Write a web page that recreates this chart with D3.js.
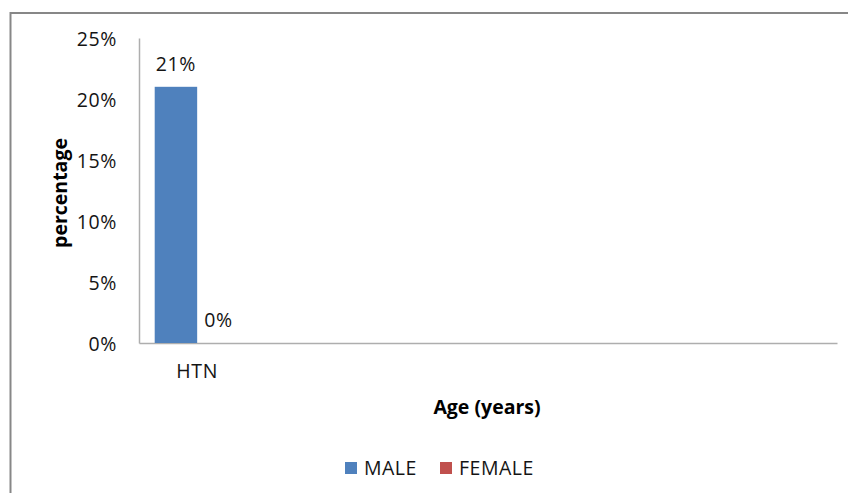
<!DOCTYPE html>
<html>
<head>
<meta charset="utf-8">
<script src="https://cdn.jsdelivr.net/npm/d3@7/dist/d3.min.js"></script>
<style>
  html, body { margin: 0; padding: 0; background: #fff; }
  svg { display: block; }
  text { font-family: "Open Sans", "Liberation Sans", sans-serif; fill: #141414; }
</style>
</head>
<body>
<svg id="chart" width="848" height="493"></svg>
<script>
// Category labels along the x axis (only the first slot carries a label)
const categories = ["HTN", "", "", "", "", ""];
// Share of each group, per category
const male = [0.21, null, null, null, null, null];
const female = [0.00, null, null, null, null, null];
const seriesNames = ["MALE", "FEMALE"];
const seriesColors = ["#4f81bd", "#c0504d"];
const yTicks = [0, 0.05, 0.10, 0.15, 0.20, 0.25];

const svg = d3.select("#chart");

// outer frame of the chart area
svg.append("rect")
  .attr("x", 10.5).attr("y", 13)
  .attr("width", 860).attr("height", 500)
  .attr("fill", "#fff")
  .attr("stroke", "#878787")
  .attr("stroke-width", 2);

const plot = { left: 139, right: 837, top: 38, bottom: 343 };

const x = d3.scaleBand()
  .domain(d3.range(categories.length))
  .range([plot.left, plot.right])
  .paddingInner(0.27)
  .paddingOuter(0.135);

const xSub = d3.scaleBand()
  .domain(seriesNames)
  .range([0, x.bandwidth()]);

const y = d3.scaleLinear()
  .domain([0, 0.25])
  .range([plot.bottom, plot.top]);

const labelSize = "19.5px";

// y axis: line plus percentage labels, no tick marks
const yAxis = svg.append("g")
  .attr("transform", `translate(${plot.left},0)`)
  .call(d3.axisLeft(y).tickValues(yTicks).tickFormat(d3.format(".0%")).tickSize(0).tickPadding(22));
yAxis.select(".domain").attr("stroke", "#aeaeae").attr("stroke-width", 1.5);
yAxis.selectAll("text")
  .style("font-size", labelSize)
  .style("letter-spacing", "0.6px")
  .attr("fill", "#141414")
  .attr("dy", "0.36em");

// x axis
const xAxis = svg.append("g")
  .attr("transform", `translate(0,${plot.bottom})`)
  .call(d3.axisBottom(x).tickFormat(i => categories[i]).tickSize(0).tickPadding(21));
xAxis.select(".domain").attr("stroke", "#aeaeae").attr("stroke-width", 1.5);
xAxis.selectAll("text")
  .style("font-size", labelSize)
  .style("letter-spacing", "0.6px")
  .attr("fill", "#141414")
  .attr("dy", "0.71em");

// bars
const rows = categories.map((c, i) => ({ i, values: [male[i], female[i]] }));
const groups = svg.append("g").selectAll("g")
  .data(rows)
  .join("g")
  .attr("transform", d => `translate(${x(d.i)},0)`);

groups.selectAll("rect")
  .data(d => d.values.map((v, k) => ({ v, k })).filter(e => e.v !== null))
  .join("rect")
  .attr("x", e => xSub(seriesNames[e.k]))
  .attr("width", xSub.bandwidth())
  .attr("y", e => y(e.v))
  .attr("height", e => y(0) - y(e.v))
  .attr("fill", e => seriesColors[e.k]);

// value labels above each bar
groups.selectAll("text.val")
  .data(d => d.values.map((v, k) => ({ v, k })).filter(e => e.v !== null))
  .join("text")
  .attr("class", "val")
  .attr("x", e => xSub(seriesNames[e.k]) + xSub.bandwidth() / 2)
  .attr("y", e => y(e.v) - 16)
  .attr("text-anchor", "middle")
  .style("font-size", labelSize)
  .style("letter-spacing", "0.6px")
  .text(e => d3.format(".0%")(e.v));

// axis titles
svg.append("text")
  .attr("transform", `translate(67,193) rotate(-90)`)
  .attr("text-anchor", "middle")
  .style("font-size", "19.5px")
  .style("font-weight", "bold")
  .style("fill", "#000")
  .text("percentage");

svg.append("text")
  .attr("x", 487).attr("y", 414)
  .attr("text-anchor", "middle")
  .style("font-size", "19.5px")
  .style("font-weight", "bold")
  .style("fill", "#000")
  .text("Age (years)");

// legend
const legendX = [345, 440];
const legend = svg.append("g").selectAll("g")
  .data(seriesNames)
  .join("g")
  .attr("transform", (d, k) => `translate(${legendX[k]},462)`);
legend.append("rect")
  .attr("width", 12).attr("height", 12)
  .attr("fill", (d, k) => seriesColors[k]);
legend.append("text")
  .attr("x", 19).attr("y", 13)
  .style("font-size", "19.5px")
  .style("letter-spacing", "0.5px")
  .text(d => d);
</script>
</body>
</html>
